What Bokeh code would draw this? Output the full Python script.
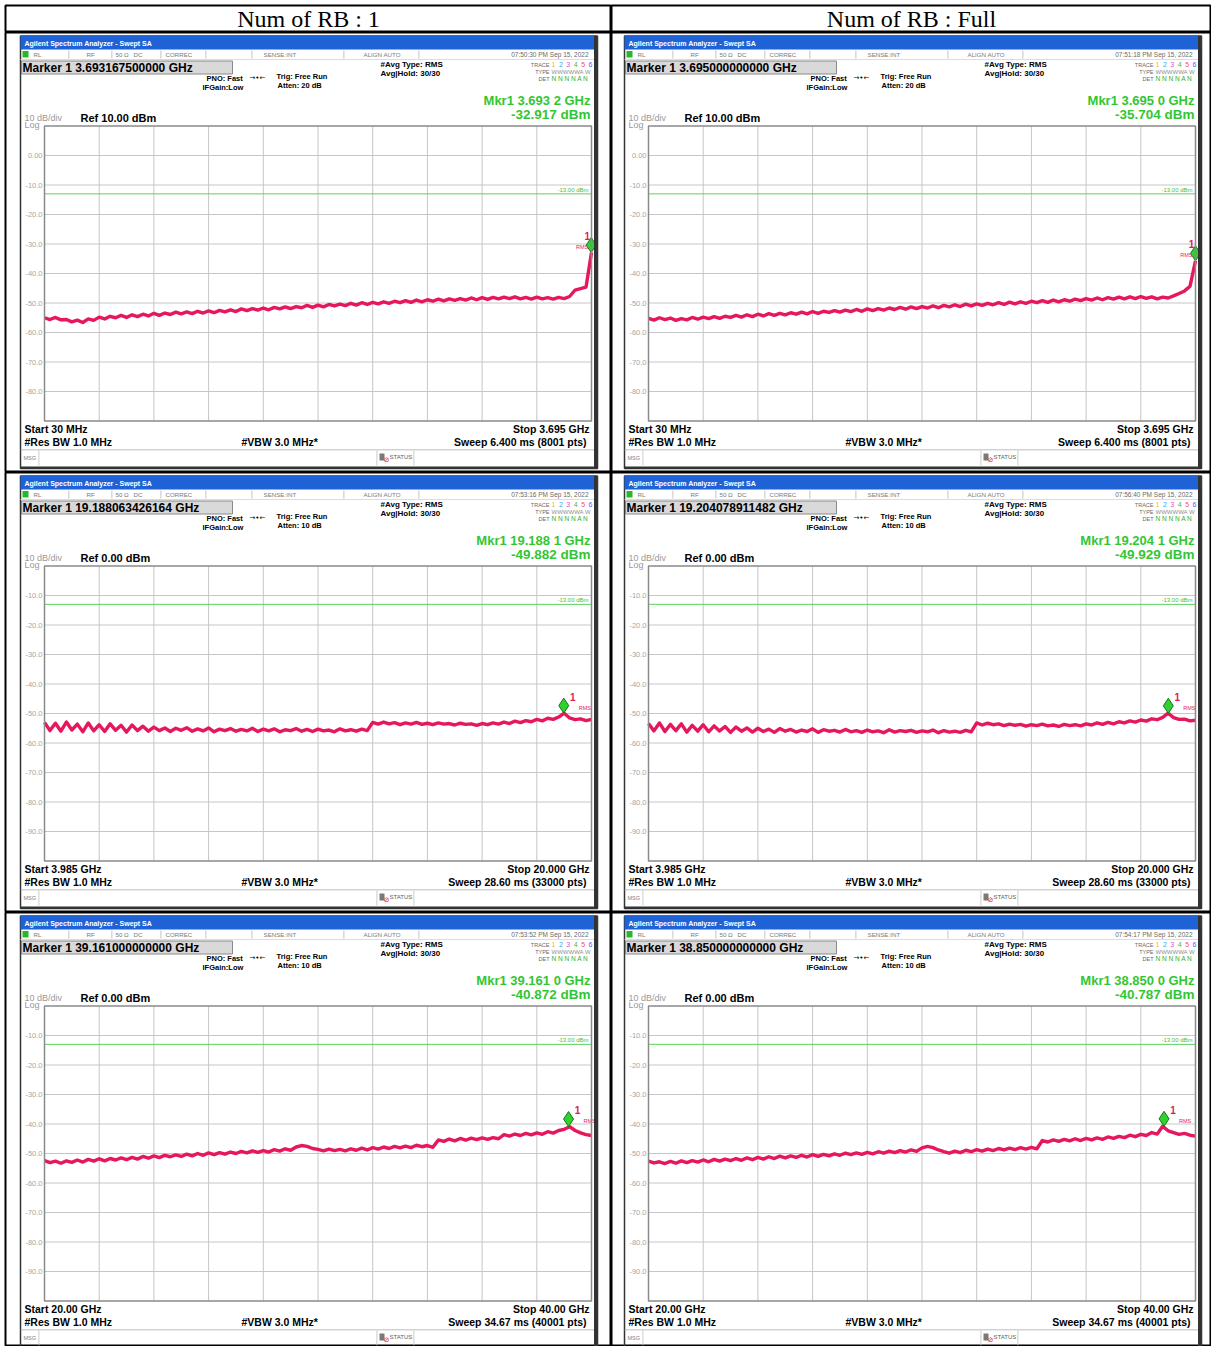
import numpy as np
from bokeh.plotting import figure
from bokeh.models import Range1d, Label, BoxAnnotation
from bokeh.layouts import column, row
from bokeh.embed import file_html
from bokeh.resources import INLINE
from bokeh.core.properties import value

SANS = "Liberation Sans"
SERIF = "Liberation Serif"

# ---------------- data ----------------
headers = ["Num of RB : 1", "Num of RB : Full"]
start_ghz = [0.030, 0.030, 3.985, 3.985, 20.0, 20.0]
stop_ghz = [3.695, 3.695, 20.0, 20.0, 40.0, 40.0]
ref_dbm = [10.0, 10.0, 0.0, 0.0, 0.0, 0.0]
limit_dbm = -13.0
limit_text = "-13.00 dBm"
ytick_labels_ref10 = ["0.00", "-10.0", "-20.0", "-30.0", "-40.0", "-50.0", "-60.0", "-70.0", "-80.0"]
ytick_labels_ref0 = ["-10.0", "-20.0", "-30.0", "-40.0", "-50.0", "-60.0", "-70.0", "-80.0", "-90.0"]

marker_ghz = [3.6931675, 3.695, 19.188063426164, 19.204078911482, 39.161, 38.850]
marker_dbm = [-32.917, -35.704, -49.882, -49.929, -40.872, -40.787]
marker_readout = ["Marker 1 3.693167500000 GHz", "Marker 1 3.695000000000 GHz",
                  "Marker 1 19.188063426164 GHz", "Marker 1 19.204078911482 GHz",
                  "Marker 1 39.161000000000 GHz", "Marker 1 38.850000000000 GHz"]
mkr_freq_text = ["Mkr1 3.693 2 GHz", "Mkr1 3.695 0 GHz", "Mkr1 19.188 1 GHz",
                 "Mkr1 19.204 1 GHz", "Mkr1 39.161 0 GHz", "Mkr1 38.850 0 GHz"]
mkr_level_text = ["-32.917 dBm", "-35.704 dBm", "-49.882 dBm", "-49.929 dBm", "-40.872 dBm", "-40.787 dBm"]
timestamps = ["07:50:30 PM Sep 15, 2022", "07:51:18 PM Sep 15, 2022", "07:53:16 PM Sep 15, 2022",
              "07:56:40 PM Sep 15, 2022", "07:53:52 PM Sep 15, 2022", "07:54:17 PM Sep 15, 2022"]
atten_text = ["Atten: 20 dB", "Atten: 20 dB", "Atten: 10 dB", "Atten: 10 dB", "Atten: 10 dB", "Atten: 10 dB"]
ref_text = ["Ref 10.00 dBm", "Ref 10.00 dBm", "Ref 0.00 dBm", "Ref 0.00 dBm", "Ref 0.00 dBm", "Ref 0.00 dBm"]
start_text = ["Start 30 MHz", "Start 30 MHz", "Start 3.985 GHz", "Start 3.985 GHz", "Start 20.00 GHz", "Start 20.00 GHz"]
stop_text = ["Stop 3.695 GHz", "Stop 3.695 GHz", "Stop 20.000 GHz", "Stop 20.000 GHz", "Stop 40.00 GHz", "Stop 40.00 GHz"]
sweep_text = ["Sweep  6.400 ms (8001 pts)", "Sweep  6.400 ms (8001 pts)", "Sweep  28.60 ms (33000 pts)",
              "Sweep  28.60 ms (33000 pts)", "Sweep  34.67 ms (40001 pts)", "Sweep  34.67 ms (40001 pts)"]

trace_rb1_low = [
    -55.0, -55.6, -54.9, -55.7, -55.6, -56.4, -55.8, -56.6, -55.4, -55.9,
    -54.8, -55.4, -54.5, -55.0, -54.2, -54.9, -54.0, -54.6, -53.8, -54.4,
    -53.5, -54.2, -53.4, -53.9, -53.1, -53.7, -53.0, -53.6, -52.8, -53.4,
    -52.7, -53.3, -52.5, -53.0, -52.3, -52.9, -52.0, -52.6, -51.9, -52.4,
    -51.7, -52.3, -51.5, -52.0, -51.3, -51.9, -51.2, -51.6, -50.8, -51.5,
    -50.7, -51.3, -50.5, -51.0, -50.4, -50.9, -50.1, -50.7, -49.9, -50.5,
    -49.8, -50.3, -49.6, -50.1, -49.4, -49.9, -49.2, -49.8, -49.0, -49.6,
    -48.9, -49.4, -48.7, -49.3, -48.6, -49.1, -48.5, -49.0, -48.3, -48.9,
    -48.2, -48.8, -48.1, -48.6, -48.0, -48.5, -47.9, -48.6, -48.1, -48.7,
    -48.0, -48.6, -48.2, -48.7, -48.1, -48.5, -47.8, -45.6, -45.1, -44.6,
    -32.9]
trace_full_low = [
    -55.2, -55.8, -55.0, -55.6, -55.1, -55.9, -55.3, -55.7, -54.9, -55.5,
    -54.8, -55.3, -54.6, -55.2, -54.5, -54.9, -54.2, -54.8, -54.0, -54.6,
    -53.8, -54.4, -53.6, -54.2, -53.5, -54.0, -53.3, -53.8, -53.1, -53.7,
    -52.9, -53.5, -52.8, -53.2, -52.6, -53.1, -52.4, -52.9, -52.2, -52.8,
    -52.0, -52.6, -51.9, -52.4, -51.7, -52.2, -51.5, -52.1, -51.3, -51.9,
    -51.2, -51.7, -51.0, -51.6, -50.8, -51.3, -50.6, -51.2, -50.4, -51.0,
    -50.3, -50.8, -50.1, -50.6, -49.9, -50.5, -49.7, -50.3, -49.6, -50.1,
    -49.4, -49.9, -49.2, -49.8, -49.0, -49.6, -48.9, -49.4, -48.7, -49.2,
    -48.5, -49.0, -48.3, -48.9, -48.2, -48.7, -48.0, -48.6, -47.9, -48.5,
    -47.8, -48.4, -47.9, -48.6, -48.0, -48.3, -47.6, -46.8, -45.9, -44.3,
    -35.7]
trace_rb1_mid = [
    -53.0, -55.8, -53.3, -56.0, -52.9, -55.6, -53.6, -56.2, -53.2, -55.9,
    -53.8, -56.1, -53.5, -55.7, -54.0, -56.3, -53.9, -55.8, -54.3, -56.0,
    -54.6, -55.8, -54.9, -56.1, -55.0, -55.7, -54.8, -56.0, -55.2, -55.9,
    -54.9, -56.2, -55.3, -55.8, -55.1, -56.0, -55.4, -55.9, -55.0, -56.1,
    -55.3, -55.9, -55.2, -56.2, -55.5, -55.8, -55.1, -56.0, -55.4, -56.1,
    -55.3, -55.9, -55.6, -56.2, -55.2, -55.9, -55.5, -56.0, -55.3, -55.8,
    -53.0, -53.6, -52.9, -53.5, -53.1, -53.8, -53.2, -53.6, -53.0, -53.7,
    -53.3, -53.8, -53.2, -53.6, -53.4, -53.9, -53.3, -53.7, -53.5, -54.0,
    -53.4, -53.8, -53.2, -53.6, -52.9, -53.4, -52.6, -53.1, -52.4, -52.8,
    -52.0, -52.5, -51.6, -52.0, -51.2, -49.9, -51.5, -52.1, -51.8, -52.4,
    -52.0]
trace_full_mid = [
    -53.4, -55.9, -53.2, -56.1, -53.7, -55.8, -53.5, -56.3, -54.0, -56.0,
    -53.8, -56.2, -54.2, -55.9, -54.4, -56.4, -54.6, -56.0, -54.9, -56.3,
    -55.0, -56.1, -55.3, -56.4, -55.1, -56.0, -55.4, -56.3, -55.6, -56.1,
    -55.2, -56.4, -55.5, -56.0, -55.7, -56.3, -55.4, -56.2, -55.8, -56.4,
    -55.6, -56.2, -55.9, -56.5, -55.5, -56.3, -55.8, -56.1, -55.7, -56.4,
    -55.9, -56.2, -55.6, -56.5, -55.8, -56.3, -56.0, -56.4, -55.7, -56.2,
    -53.2, -53.9, -53.3, -53.8, -53.5, -54.1, -53.6, -54.0, -53.7, -54.3,
    -53.8, -54.1, -53.6, -54.2, -53.9, -54.4, -53.7, -54.1, -53.8, -54.2,
    -53.5, -53.9, -53.2, -53.7, -53.0, -53.5, -52.8, -53.2, -52.5, -52.9,
    -52.2, -52.6, -51.8, -52.1, -51.3, -49.9, -51.4, -52.0, -51.9, -52.5,
    -52.3]
trace_rb1_high = [
    -52.4, -53.1, -52.6, -53.3, -52.5, -53.0, -52.2, -52.9, -52.0, -52.6,
    -51.8, -52.5, -51.7, -52.2, -51.5, -52.1, -51.3, -51.9, -51.0, -51.6,
    -50.8, -51.4, -50.6, -51.1, -50.5, -51.0, -50.2, -50.8, -50.0, -50.6,
    -49.8, -50.4, -49.7, -50.2, -49.5, -50.0, -49.3, -49.8, -49.1, -49.6,
    -49.0, -49.5, -48.7, -49.2, -48.4, -48.9, -47.8, -47.3, -47.6, -48.3,
    -48.6, -49.1, -48.5, -49.0, -48.6, -49.1, -48.4, -48.9, -48.2, -48.8,
    -48.0, -48.5, -47.8, -48.3, -47.6, -48.1, -47.5, -48.0, -47.2, -47.7,
    -47.3, -47.9, -45.4, -45.9, -45.1, -45.7, -44.9, -45.5, -44.8, -45.3,
    -44.7, -45.2, -44.6, -45.0, -43.6, -44.1, -43.4, -43.9, -43.2, -43.7,
    -43.0, -43.5, -42.6, -43.1, -42.2, -41.8, -40.9, -42.2, -43.0, -43.6,
    -43.9]
trace_full_high = [
    -52.6, -53.2, -52.8, -53.4, -52.7, -53.3, -52.5, -53.1, -52.4, -52.9,
    -52.2, -52.8, -52.0, -52.6, -51.9, -52.4, -51.7, -52.3, -51.5, -52.1,
    -51.3, -51.9, -51.1, -51.7, -50.9, -51.5, -50.8, -51.3, -50.6, -51.2,
    -50.4, -51.0, -50.3, -50.8, -50.1, -50.6, -49.9, -50.4, -49.8, -50.3,
    -49.6, -50.1, -49.4, -49.9, -49.2, -49.7, -49.0, -49.5, -48.8, -49.3,
    -48.1, -47.6, -48.0, -48.8, -49.4, -49.9, -49.2, -49.7, -48.9, -49.4,
    -48.7, -49.2, -48.5, -49.0, -48.3, -48.8, -48.2, -48.7, -48.0, -48.5,
    -47.9, -48.4, -45.6, -46.1, -45.4, -45.9, -45.2, -45.7, -45.0, -45.6,
    -44.9, -45.4, -44.7, -45.2, -44.4, -44.9, -44.2, -44.6, -43.8, -44.3,
    -43.5, -43.9, -42.9, -43.4, -40.8, -42.3, -42.9, -43.5, -43.2, -43.8,
    -44.1]
traces = [trace_rb1_low, trace_full_low, trace_rb1_mid, trace_full_mid, trace_rb1_high, trace_full_high]

# ---------------- styling ----------------
TRACE_COLOR = "#e6175c"
GREEN = "#33c633"


def header_cell(text, W, left_pad):
    p = figure(width=W, height=32, x_range=Range1d(0, 1), y_range=Range1d(0, 1),
               x_axis_type=None, y_axis_type=None, toolbar_location=None, output_backend="svg",
               min_border_left=left_pad, min_border_right=0, min_border_top=5, min_border_bottom=0)
    p.outline_line_color = "black"
    p.outline_line_width = 2
    p.background_fill_color = "white"
    p.border_fill_color = "white"
    p.add_layout(Label(x=0.5, y=0.5, text=text, text_align="center", text_baseline="middle",
                       text_font=SERIF, text_font_size="24px", text_color="black"))
    return p


def panel_cell(k, W, H, left_pad, ox, oy):
    start, stop, ref = start_ghz[k], stop_ghz[k], ref_dbm[k]
    gx0, gx1 = ox + 24.0, ox + 571.0
    gy0, gy1 = oy + 89.5, oy + 384.5
    fw = W - left_pad
    fpp = (stop - start) / (gx1 - gx0)
    dpp = 100.0 / (gy1 - gy0)
    p = figure(width=W, height=H,
               x_range=Range1d(start - gx0 * fpp, start + (fw - gx0) * fpp),
               y_range=Range1d(ref - 100 - (H - gy1) * dpp, ref + gy0 * dpp),
               x_axis_type=None, y_axis_type=None, toolbar_location=None, output_backend="svg",
               min_border_left=left_pad, min_border_right=0, min_border_top=0, min_border_bottom=0)
    p.outline_line_color = "black"
    p.outline_line_width = 2
    p.background_fill_color = "white"
    p.border_fill_color = "white"

    def sbox(rx0, ry0, rx1, ry1, fill=None, line=None, lw=1.0):
        p.add_layout(BoxAnnotation(
            left=ox + rx0, right=ox + rx1, top=H - (oy + ry0), bottom=H - (oy + ry1),
            left_units="screen", right_units="screen", top_units="screen", bottom_units="screen",
            fill_color=fill, fill_alpha=1.0, line_color=line, line_alpha=1.0, line_width=lw))

    def lab(rx, ry, text, size=8.0, color="black", bold=False, align="left", font=SANS):
        p.add_layout(Label(x=ox + rx, y=H - (oy + ry), x_units="screen", y_units="screen",
                           text=text, text_font=font, text_font_size=f"{size}px",
                           text_color=color, text_font_style="bold" if bold else "normal",
                           text_align=align, text_baseline="middle"))

    # screenshot chrome
    sbox(0, -0.5, 577, 432, fill=None, line="#333333", lw=1.5)
    sbox(0, -0.5, 577, 13, fill="#1f62d6")
    lab(4, 6.5, "Agilent Spectrum Analyzer - Swept SA", size=7, color="white", bold=True)
    # status row
    sbox(2, 14.5, 8, 21, fill="#29b829")
    for sx in [48, 91, 140, 185, 231, 323, 398]:
        sbox(sx, 14, sx + 0.8, 22, fill="#b5b5b5")
    sbox(0, 22.5, 575, 23.2, fill="#d0d0d0")
    for rx, t in [(13, "RL"), (66, "RF"), (95, "50 Ω"), (113, "DC"), (145, "CORREC"),
                  (243, "SENSE:INT"), (343, "ALIGN AUTO")]:
        lab(rx, 18, t, size=6.2, color="#7a7a7a")
    lab(568, 18, timestamps[k], size=6.5, color="#6a6a6a", align="right")
    # marker box
    sbox(1, 24.5, 212, 37.5, fill="#d9d9d9", line="#8a8a8a", lw=1)
    lab(2, 31, marker_readout[k], size=12, bold=True)
    lab(186, 42, "PNO: Fast", size=7.5, bold=True)
    lab(182, 51, "IFGain:Low", size=7.5, bold=True)
    lab(229, 41.5, "→•←", size=7, font="DejaVu Sans")
    lab(256, 40, "Trig: Free Run", size=7.5, bold=True)
    lab(257, 49, atten_text[k], size=7.5, bold=True)
    lab(360, 28, "#Avg Type: RMS", size=8, bold=True)
    lab(360, 37, "Avg|Hold: 30/30", size=8, bold=True)
    lab(529, 28, "TRACE", size=5.5, color="#6a6a6a", align="right")
    lab(529, 35, "TYPE", size=5.5, color="#6a6a6a", align="right")
    lab(529, 42, "DET", size=5.5, color="#6a6a6a", align="right")
    for j, c in enumerate(["#f0b828", "#3aa8f0", "#e050d0", "#48b848", "#f05070", "#6058f0"]):
        lab(533 + 7.4 * j, 28, str(j + 1), size=7, color=c, align="center")
    lab(531, 35, "WWWWWA W", size=6, color="#909090")
    lab(531, 42, "N N N N A N", size=6.5, color="#2fb02f")
    lab(570, 64, mkr_freq_text[k], size=13, color=GREEN, bold=True, align="right")
    lab(570, 77.5, mkr_level_text[k], size=13.5, color=GREEN, bold=True, align="right")
    lab(4, 81.5, "10 dB/div", size=9, color="#9a9a9a")
    lab(4, 88.5, "Log", size=9, color="#9a9a9a")
    lab(60, 81, ref_text[k], size=11, bold=True)
    # bottom annotations
    lab(4, 392, start_text[k], size=10.5, bold=True)
    lab(4, 405, "#Res BW 1.0 MHz", size=10.5, bold=True)
    lab(221, 405, "#VBW 3.0 MHz*", size=10.5, bold=True)
    lab(569, 392, stop_text[k], size=10.5, bold=True, align="right")
    lab(569, 405, sweep_text[k], size=10.5, bold=True, align="right")
    sbox(0, 413, 574, 413.8, fill="#a8a8a8")
    for sx in [18, 356, 393]:
        sbox(sx, 414, sx + 0.8, 429, fill="#c0c0c0")
    lab(3, 421, "MSG", size=5.5, color="#808080")
    sbox(359, 417, 364, 424, fill="#7a7a7a")
    lab(366, 423, "⊘", size=7, color="#e02020", align="center", font="DejaVu Sans")
    lab(369, 420.5, "STATUS", size=6, color="#606060")
    sbox(573.5, -0.5, 577, 432, fill="#333333")
    sbox(0, 430, 577, 432.5, fill="#333333")

    # graticule (data space)
    span = stop - start
    vx = [start + span * i / 10.0 for i in range(1, 10)]
    hy = [ref - 10.0 * j for j in range(1, 10)]
    p.segment(x0=vx, y0=[ref - 100] * 9, x1=vx, y1=[ref] * 9, line_color="#c6c6c6", line_width=1)
    p.segment(x0=[start] * 9, y0=hy, x1=[stop] * 9, y1=hy, line_color="#c6c6c6", line_width=1)
    p.add_layout(BoxAnnotation(left=start, right=stop, top=ref, bottom=ref - 100,
                               fill_color=None, line_color="#8a8a8a", line_alpha=1.0, line_width=1.5))
    labels = ytick_labels_ref10 if ref == 10.0 else ytick_labels_ref0
    p.text(x=[start] * 9, y=hy, text=labels, text_align="right", text_baseline="middle",
           x_offset=-2, text_font=value(SANS), text_font_size="7.5px", text_color="#a6a6a6")
    # limit line
    p.segment(x0=[start], y0=[limit_dbm], x1=[stop], y1=[limit_dbm], line_color="#5ad35a", line_width=1)
    p.text(x=[stop], y=[limit_dbm], text=[limit_text], text_align="right", text_baseline="bottom",
           x_offset=-3, y_offset=-1, text_font=value(SANS), text_font_size="6px", text_color="#44c044")
    # trace
    tr = traces[k]
    xs = np.linspace(start, stop, len(tr))
    p.line(xs, tr, line_color=TRACE_COLOR, line_width=3.4, line_join="round")
    # marker
    mf, mv = marker_ghz[k], marker_dbm[k]
    my = mv + 7.5 * dpp
    p.scatter([mf], [my], marker="diamond", size=15, fill_color="#2fd02f",
              line_color="#17761a", line_width=1)
    if k < 2:
        p.text([mf], [my], text=["1"], x_offset=-4, y_offset=-9, text_align="center",
               text_baseline="middle", text_font=value(SANS), text_font_size="10px",
               text_font_style="bold", text_color=TRACE_COLOR)
        p.text([mf], [my], text=["RMS"], x_offset=-3, y_offset=2, text_align="right",
               text_baseline="middle", text_font=value(SANS), text_font_size="5.5px",
               text_color=TRACE_COLOR)
    else:
        p.text([mf], [my], text=["1"], x_offset=9, y_offset=-9, text_align="center",
               text_baseline="middle", text_font=value(SANS), text_font_size="10px",
               text_font_style="bold", text_color=TRACE_COLOR)
        p.text([mf], [my], text=["RMS"], x_offset=15, y_offset=2, text_align="left",
               text_baseline="middle", text_font=value(SANS), text_font_size="5.5px",
               text_color=TRACE_COLOR)
    return p


h1 = header_cell(headers[0], 611, 5)
h2 = header_cell(headers[1], 600, 0)
heights = [440, 440, 434]
rows = [row(h1, h2)]
for r in range(3):
    left = panel_cell(2 * r, 611, heights[r], 5, 15, 4)
    right = panel_cell(2 * r + 1, 600, heights[r], 0, 13, 4)
    rows.append(row(left, right))
layout = column(*rows)

open("out.html", "w").write(file_html(layout, INLINE))
